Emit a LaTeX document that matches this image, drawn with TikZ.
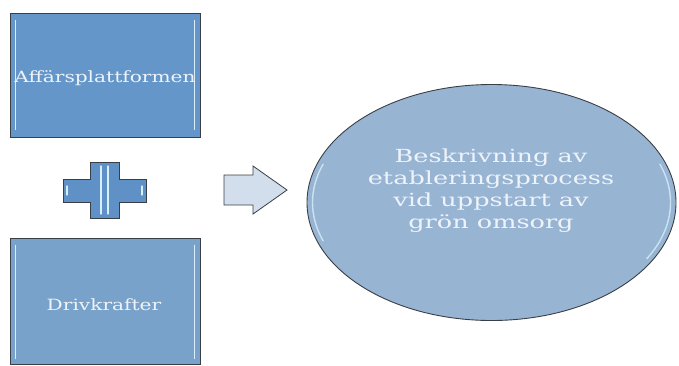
\documentclass[tikz,border=0pt]{standalone}
\usepackage{fontspec}
\setmainfont{DejaVu Serif}
\newfontfamily\boxfont[FakeStretch=1.3]{DejaVu Serif}
\newfontfamily\ellfont[FakeStretch=1.42]{DejaVu Serif}
\usetikzlibrary{shapes.geometric}
\definecolor{boxA}{HTML}{6596C9}
\definecolor{boxB}{HTML}{79A2CB}
\definecolor{ellF}{HTML}{98B4D3}
\definecolor{plusF}{HTML}{5F90C6}
\definecolor{arrF}{HTML}{D3DEEC}
\definecolor{rim}{HTML}{3A3F45}
\definecolor{hl}{HTML}{D8EEFC}
\definecolor{txt}{HTML}{EEF3F9}
\tikzset{
  panel/.style={draw=rim, line width=0.8pt, minimum width=190pt, inner sep=0pt},
  panellabel/.style={text=txt, inner sep=0pt, font=\boxfont\fontsize{15.5}{20}\selectfont},
  bevel/.style={draw=hl, line width=1.6pt, line cap=round},
}
\begin{document}
\begin{tikzpicture}[x=1pt,y=-1pt]
\useasboundingbox (0,0) rectangle (679,365);
% box 1
\node[panel, fill=boxA, minimum height=124pt] (b1) at (105,75) {};
\draw[bevel] ([xshift=6pt,yshift=-8pt]b1.north west) -- ([xshift=6pt,yshift=8pt]b1.south west);
\draw[bevel] ([xshift=-6pt,yshift=-8pt]b1.north east) -- ([xshift=-6pt,yshift=8pt]b1.south east);
\node[panellabel] (t1) at (105,78) {Affärsplattformen};
% box 2
\node[panel, fill=boxB, minimum height=126pt] (b2) at (105,301) {};
\draw[bevel] ([xshift=6pt,yshift=-8pt]b2.north west) -- ([xshift=6pt,yshift=6pt]b2.south west);
\draw[bevel] ([xshift=-6pt,yshift=-8pt]b2.north east) -- ([xshift=-6pt,yshift=6pt]b2.south east);
\node[panellabel] (t2) at (104,305) {Drivkrafter};
% plus
\draw[draw=rim, fill=plusF, line width=0.8pt]
  (90,162) -- (119,162) -- (119,179) -- (146,179) -- (146,202) -- (119,202) -- (119,218)
  -- (90,218) -- (90,202) -- (63,202) -- (63,179) -- (90,179) -- cycle;
\draw[bevel, line width=1.2pt] (101,166) -- (101,214);
\draw[bevel, line width=1.2pt] (108,166) -- (108,214);
\draw[bevel, line width=1.2pt] (67,186) -- (67,195);
\draw[bevel, line width=1.2pt] (142,186) -- (142,195);
% arrow
\draw[draw=rim, fill=arrF, line width=0.8pt]
  (224,175) -- (253,175) -- (253,166) -- (287,190) -- (253,214) -- (253,205) -- (224,205) -- cycle;
% ellipse
\node[ellipse, draw=rim, fill=ellF, line width=0.9pt, minimum width=369pt, minimum height=236pt, inner sep=0pt] (e) at (491.5,202.5) {};
\draw[draw=hl, line width=1.4pt, opacity=0.8] (e.center) ++(200:179pt and 113pt) arc[start angle=200, end angle=160, x radius=179pt, y radius=113pt];
\draw[draw=hl, line width=1.4pt, opacity=0.8] (e.center) ++(-30:179pt and 113pt) arc[start angle=-30, end angle=20, x radius=179pt, y radius=113pt];
\node[text=txt, align=center, font=\ellfont\fontsize{18}{22}\selectfont] (et) at (491,191)
  {Beskrivning av\\etableringsprocess\\vid uppstart av\\grön omsorg};
\end{tikzpicture}
\end{document}
